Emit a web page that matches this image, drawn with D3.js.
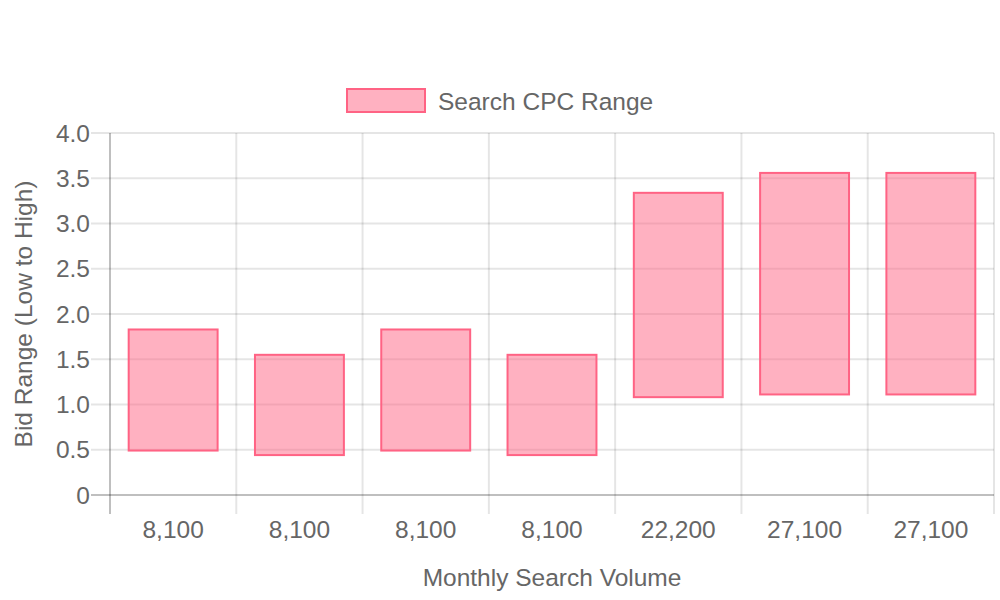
<!DOCTYPE html>
<html>
<head>
<meta charset="utf-8">
<script src="https://cdn.jsdelivr.net/npm/d3@7"></script>
<style>
  html, body { margin: 0; padding: 0; background: #fff; }
  svg { display: block; font-family: "Liberation Sans", Arial, sans-serif; }
</style>
</head>
<body>
<svg id="chart" width="1000" height="600"></svg>
<script>
// ---- data ----
const categories = ["8,100", "8,100", "8,100", "8,100", "22,200", "27,100", "27,100"];
const lowBids  = [0.48, 0.43, 0.48, 0.43, 1.07, 1.10, 1.10];
const highBids = [1.84, 1.56, 1.84, 1.56, 3.35, 3.57, 3.57];
const yTicks = [0, 0.5, 1.0, 1.5, 2.0, 2.5, 3.0, 3.5, 4.0];
const seriesName = "Search CPC Range";
const xTitle = "Monthly Search Volume";
const yTitle = "Bid Range (Low to High)";

// ---- layout ----
const plotLeft = 110, plotRight = 994, plotTop = 133, plotBottom = 495;
const textColor = "#666";
const gridColor = "rgba(0,0,0,0.1)";
const axisColor = "rgba(0,0,0,0.25)";
const fill = "rgba(255,99,132,0.5)";
const stroke = "rgb(255,99,132)";
const fontSize = 24.5;

const svg = d3.select("#chart");

const x = d3.scaleBand().domain(d3.range(categories.length)).range([plotLeft, plotRight]).paddingInner(0).paddingOuter(0);
const y = d3.scaleLinear().domain([0, 4]).range([plotBottom, plotTop]);

const fmt = v => v === 0 ? "0" : d3.format(".1f")(v);

// horizontal gridlines
svg.append("g").selectAll("line").data(yTicks.filter(t => t !== 0)).join("line")
  .attr("x1", plotLeft - 19).attr("x2", plotRight)
  .attr("y1", d => y(d)).attr("y2", d => y(d))
  .attr("stroke", gridColor).attr("stroke-width", 2);

// vertical gridlines at category boundaries
const bounds = d3.range(categories.length + 1).map(i => i < categories.length ? x(i) : plotRight);
svg.append("g").selectAll("line").data(bounds.filter((d, i) => i !== 0)).join("line")
  .attr("x1", d => d).attr("x2", d => d)
  .attr("y1", plotTop).attr("y2", plotBottom + 19)
  .attr("stroke", gridColor).attr("stroke-width", 2);

// bars (floating)
const bw = x.bandwidth() * 0.72;
svg.append("g").selectAll("rect").data(categories.map((c, i) => i)).join("rect")
  .attr("x", i => x(i) + (x.bandwidth() - bw) / 2 + 1)
  .attr("y", i => y(highBids[i]) + 1)
  .attr("width", bw - 2)
  .attr("height", i => y(lowBids[i]) - y(highBids[i]) - 2)
  .attr("fill", fill).attr("stroke", stroke).attr("stroke-width", 2);

// axis lines
svg.append("line").attr("x1", plotLeft - 19).attr("x2", plotRight).attr("y1", plotBottom).attr("y2", plotBottom)
  .attr("stroke", axisColor).attr("stroke-width", 2);
svg.append("line").attr("x1", plotLeft).attr("x2", plotLeft).attr("y1", plotTop).attr("y2", plotBottom + 19)
  .attr("stroke", axisColor).attr("stroke-width", 2);

// y tick labels
svg.append("g").selectAll("text").data(yTicks).join("text")
  .attr("x", plotLeft - 20).attr("y", d => y(d))
  .attr("text-anchor", "end").attr("dominant-baseline", "central")
  .attr("fill", textColor).attr("font-size", fontSize)
  .text(fmt);

// x tick labels
svg.append("g").selectAll("text").data(categories.map((c, i) => i)).join("text")
  .attr("x", i => x(i) + x.bandwidth() / 2).attr("y", 529)
  .attr("text-anchor", "middle").attr("dominant-baseline", "central")
  .attr("fill", textColor).attr("font-size", fontSize)
  .text(i => categories[i]);

// axis titles
svg.append("text").attr("x", (plotLeft + plotRight) / 2).attr("y", 577)
  .attr("text-anchor", "middle").attr("dominant-baseline", "central")
  .attr("fill", textColor).attr("font-size", fontSize).text(xTitle);
svg.append("text").attr("transform", `translate(23,${(plotTop + plotBottom) / 2}) rotate(-90)`)
  .attr("text-anchor", "middle").attr("dominant-baseline", "central")
  .attr("fill", textColor).attr("font-size", fontSize).text(yTitle);

// legend
const lg = svg.append("g");
lg.append("rect").attr("x", 347).attr("y", 89).attr("width", 78).attr("height", 23)
  .attr("fill", fill).attr("stroke", stroke).attr("stroke-width", 2);
lg.append("text").attr("x", 438).attr("y", 101)
  .attr("dominant-baseline", "central").attr("fill", textColor).attr("font-size", fontSize)
  .text(seriesName);
</script>
</body>
</html>
